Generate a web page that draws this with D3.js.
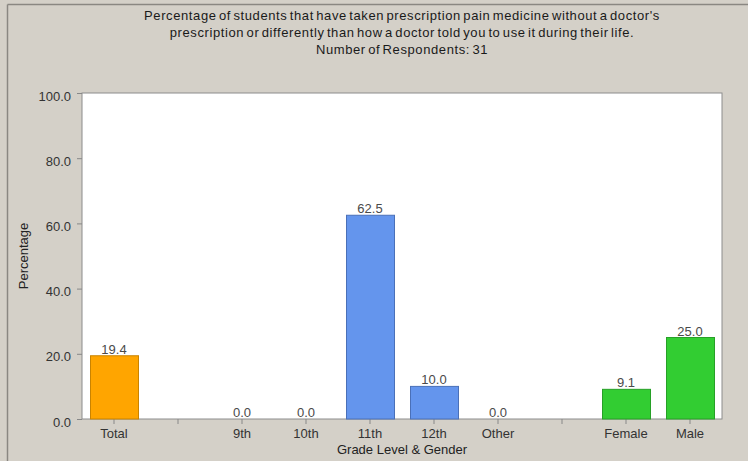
<!DOCTYPE html>
<html>
<head>
<meta charset="utf-8">
<script src="https://cdn.jsdelivr.net/npm/d3@7"></script>
<style>
  html, body { margin: 0; padding: 0; background: #d4d0c8; }
  svg { display: block; font-family: "Liberation Sans", Arial, sans-serif; }
</style>
</head>
<body>
<svg id="chart" width="748" height="461"></svg>
<script>
// Category slots along the x axis (empty strings are spacer slots)
const categories = ["Total", "", "9th", "10th", "11th", "12th", "Other", "", "Female", "Male"];
// Percentage per category (null = spacer, no bar)
const values = [19.4, null, 0.0, 0.0, 62.5, 10.0, 0.0, null, 9.1, 25.0];
// Bar group per category
const groups = ["total", null, "grade", "grade", "grade", "grade", "grade", null, "gender", "gender"];
const yTicks = [0, 20, 40, 60, 80, 100];
const titleLines = [
  "Percentage of students that have taken prescription pain medicine without a doctor's",
  "prescription or differently than how a doctor told you to use it during their life.",
  "Number of Respondents: 31"
];

const fills = { total: "#ffa500", grade: "#6495ed", gender: "#32cd32" };
const strokes = { total: "#c98300", grade: "#4a70b8", gender: "#27a027" };

const W = 748, H = 461;
const margin = { left: 82, right: 26, top: 93, bottom: 42 };
const svg = d3.select("#chart");

// panel frame
svg.append("line").attr("x1", 7.5).attr("x2", W).attr("y1", 4.5).attr("y2", 4.5)
  .attr("stroke", "#8a8782").attr("stroke-width", 1.5);
svg.append("line").attr("x1", 7.5).attr("x2", 7.5).attr("y1", 4.5).attr("y2", H)
  .attr("stroke", "#8a8782").attr("stroke-width", 1.5);

const x = d3.scaleBand().domain(d3.range(categories.length))
  .range([margin.left, W - margin.right]).paddingInner(0.25).paddingOuter(0.125);
const y = d3.scaleLinear().domain([0, 100]).range([H - margin.bottom, margin.top]);

// plot area
svg.append("rect")
  .attr("x", margin.left).attr("y", margin.top)
  .attr("width", W - margin.right - margin.left)
  .attr("height", H - margin.bottom - margin.top)
  .attr("fill", "#ffffff").attr("stroke", "#8c8c8c").attr("stroke-width", 1);

// title
svg.append("g").selectAll("text").data(titleLines).join("text")
  .attr("x", (margin.left + W - margin.right) / 2)
  .attr("y", (d, i) => 19.5 + i * 17)
  .attr("text-anchor", "middle")
  .attr("font-size", 13).attr("letter-spacing", 0.6).attr("word-spacing", -1.8)
  .attr("fill", "#1a1a1a")
  .text(d => d);

// y axis
const yAxis = d3.axisLeft(y).tickValues(yTicks).tickFormat(d3.format(".1f")).tickSize(5).tickPadding(6);
const gy = svg.append("g").attr("transform", `translate(${margin.left},0)`).call(yAxis);
gy.select(".domain").remove();
gy.selectAll(".tick line").attr("stroke", "#888");
gy.selectAll(".tick text").attr("font-size", 13).attr("fill", "#333").attr("dy", "0.55em")
  .attr("font-family", "Liberation Sans, Arial, sans-serif");

// x axis
const xAxis = d3.axisBottom(x).tickFormat(i => categories[i]).tickSize(5).tickPadding(5);
const gx = svg.append("g").attr("transform", `translate(0,${H - margin.bottom})`).call(xAxis);
gx.select(".domain").remove();
gx.selectAll(".tick line").attr("stroke", "#888");
gx.selectAll(".tick text").attr("font-size", 13).attr("fill", "#333")
  .attr("font-family", "Liberation Sans, Arial, sans-serif");

// axis titles
svg.append("text")
  .attr("x", (margin.left + W - margin.right) / 2).attr("y", 454)
  .attr("text-anchor", "middle").attr("font-size", 13).attr("fill", "#222")
  .text("Grade Level & Gender");
svg.append("text")
  .attr("transform", `translate(28,${(margin.top + H - margin.bottom) / 2}) rotate(-90)`)
  .attr("text-anchor", "middle").attr("font-size", 13).attr("fill", "#222")
  .text("Percentage");

// bars
const data = categories.map((c, i) => ({ i, c, v: values[i], g: groups[i] })).filter(d => d.v !== null);
svg.append("g").selectAll("rect").data(data.filter(d => d.v > 0)).join("rect")
  .attr("x", d => x(d.i) + 0.5).attr("y", d => y(d.v))
  .attr("width", x.bandwidth()).attr("height", d => y(0) - y(d.v))
  .attr("fill", d => fills[d.g]).attr("stroke", d => strokes[d.g]).attr("stroke-width", 1);

// value labels
svg.append("g").selectAll("text").data(data).join("text")
  .attr("x", d => x(d.i) + x.bandwidth() / 2)
  .attr("y", d => y(d.v) - 2)
  .attr("text-anchor", "middle").attr("font-size", 13).attr("fill", "#4a4a4a")
  .text(d => d3.format(".1f")(d.v));
</script>
</body>
</html>
